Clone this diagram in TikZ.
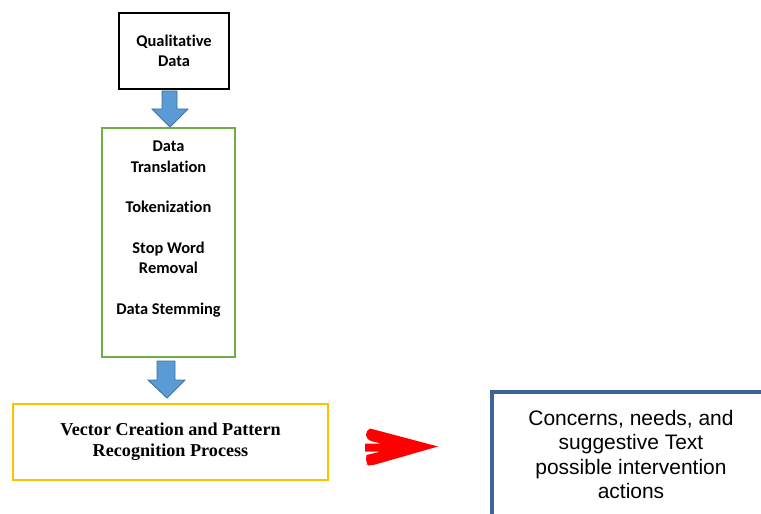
\documentclass[tikz,border=0pt]{standalone}
\usepackage{fontspec}
\usetikzlibrary{calc}
\newfontfamily\calfont[Ligatures=NoCommon]{Carlito}
\newfontfamily\arialfont{Liberation Sans}
\newfontfamily\timesfont{Liberation Serif}
\definecolor{bordgreen}{HTML}{70AD47}
\definecolor{bordyellow}{HTML}{FFC000}
\definecolor{bordnavy}{HTML}{3C6496}
\definecolor{arrblue}{HTML}{5B9BD5}
\definecolor{arrline}{HTML}{41719C}
\definecolor{arrred}{HTML}{FF0000}

\begin{document}
\begin{tikzpicture}[
    x=0.03cm, y=-0.03cm,
    box/.style={
        rectangle, inner sep=0pt, align=center,
    },
    databox/.style={box, draw=black, line width=1.7pt,
        minimum width=3.3cm, minimum height=2.28cm,
        font=\calfont\bfseries\fontsize{14}{17.2}\selectfont},
    prepbox/.style={box, draw=bordgreen, line width=1.7pt,
        minimum width=3.99cm, minimum height=6.87cm},
    steptext/.style={box, font=\calfont\bfseries\fontsize{14}{17.3}\selectfont},
    vectorbox/.style={box, draw=bordyellow, line width=1.7pt,
        minimum width=9.45cm, minimum height=2.28cm,
        font=\timesfont\bfseries\fontsize{15.5}{17.9}\selectfont},
    outbox/.style={box, draw=bordnavy, line width=3.4pt,
        minimum width=8.33cm, minimum height=3.75cm,
        font=\arialfont\fontsize{17.9}{20.9}\selectfont},
    blockarr/.style={fill=arrblue, draw=arrline, line width=0.8pt},
]
\useasboundingbox (0,0) rectangle (761,514);
\clip (0,0) rectangle (761,514);

% Left column
\node[databox] (qual) at (174,51) {Qualitative\\Data};

\node[prepbox] (prep) at (168.5,242.5) {};
\node[steptext, anchor=north] (steps) at ($(prep.north)+(0,14)$)
    {Data\\Translation\\[17.3pt]
     Tokenization\\[17.3pt]
     Stop Word\\Removal\\[17.3pt]
     Data Stemming};

\node[vectorbox] (vcp) at (170.5,442)
    {Vector Creation and Pattern\\Recognition Process};

% Right: outcome box, runs off the page
\node[outbox] (outcome) at (631,454.5)
    {Concerns, needs, and\\suggestive Text\\possible intervention\\actions};

% Block arrows down the column
\filldraw[blockarr, shift={(prep.north)}]
    (-6.5,-36) -- (8.5,-36) -- (8.5,-18) -- (19.5,-18) -- (1.5,0)
    -- (-16.5,-18) -- (-6.5,-18) -- cycle;
\filldraw[blockarr, shift={(prep.south)}]
    (-11.5,3) -- (6.5,3) -- (6.5,22) -- (16.5,22) -- (-1.5,40)
    -- (-20.5,22) -- (-11.5,22) -- cycle;

% Red arrow to the outcome
\fill[arrred] (438,446.5) -- (370,428.5)
    [rounded corners=4] -- (365.5,430.5) -- (366.5,440)
    [sharp corners] -- (381,443.5) -- (365,443.5) -- (365,451.5)
    -- (381,451.5) -- (366.5,455)
    [rounded corners=4] -- (365.5,464) -- (370,466)
    [sharp corners] -- cycle;

\end{tikzpicture}
\end{document}
